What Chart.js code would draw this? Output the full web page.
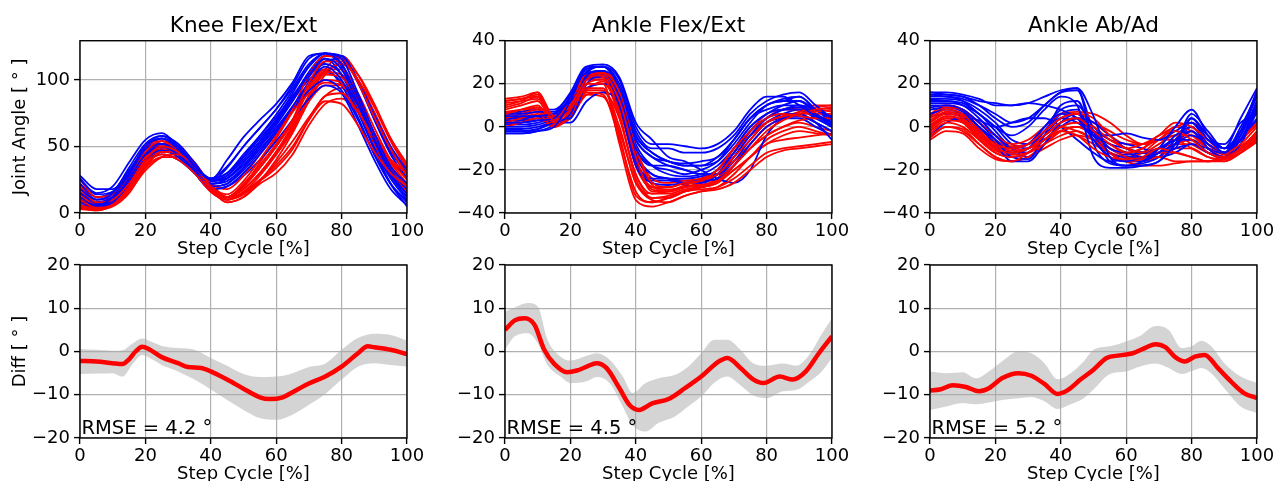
<!DOCTYPE html>
<html>
<head>
<meta charset="utf-8">
<script src="https://cdn.jsdelivr.net/npm/chart.js@4"></script>
<style>
  body { margin: 0; width: 1279px; height: 481px; overflow: hidden; background: #fff; position: relative; }
  canvas { position: absolute; }
</style>
</head>
<body>
<canvas id="kneeTop" width="427" height="261" style="left:0;top:0"></canvas>
<canvas id="ankleTop" width="427" height="261" style="left:425px;top:0"></canvas>
<canvas id="abadTop" width="427" height="261" style="left:850px;top:0"></canvas>
<canvas id="kneeDiff" width="427" height="236" style="left:0;top:250px"></canvas>
<canvas id="ankleDiff" width="427" height="236" style="left:425px;top:250px"></canvas>
<canvas id="abadDiff" width="427" height="236" style="left:850px;top:250px"></canvas>
<script>
// --- data: step cycle samples (every 5 %) ---
const STEP = [0, 5, 10, 15, 20, 25, 30, 35, 40, 45, 50, 55, 60, 65, 70, 75, 80, 85, 90, 95, 100];
const X_TICKS = [0, 20, 40, 60, 80, 100];
const TITLES = ["Knee Flex/Ext", "Ankle Flex/Ext", "Ankle Ab/Ad"];
const RMSE = [4.2, 4.5, 5.2];

// Knee Flex/Ext
const KNEE_RED = [
  [5, 3, 6, 18, 36, 44, 40, 30, 16, 10, 16, 25, 36, 50, 70, 84, 82, 66, 46, 30, 20],
  [10, 4, 6, 16, 32, 42, 44, 35, 20, 10, 15, 24, 34, 48, 70, 88, 90, 76, 56, 40, 30],
  [20, 8, 10, 22, 40, 50, 46, 34, 18, 12, 20, 34, 50, 70, 98, 114, 114, 100, 80, 56, 37],
  [25, 12, 14, 26, 46, 54, 48, 34, 20, 14, 24, 40, 58, 78, 104, 118, 116, 98, 72, 48, 28],
  [6, 3, 5, 15, 34, 46, 46, 36, 20, 12, 20, 34, 50, 68, 92, 104, 102, 84, 60, 38, 22],
  [14, 6, 8, 20, 38, 48, 46, 36, 22, 18, 28, 44, 60, 76, 90, 98, 96, 78, 52, 30, 16],
  [9, 5, 12, 30, 50, 54, 48, 34, 18, 12, 22, 36, 52, 70, 94, 106, 104, 86, 60, 36, 20],
  [12, 5, 8, 18, 34, 42, 42, 34, 18, 8, 12, 22, 30, 44, 66, 82, 86, 76, 58, 40, 32],
  [4, 2, 6, 20, 40, 50, 48, 36, 20, 12, 18, 30, 44, 62, 88, 106, 112, 104, 82, 56, 35],
  [16, 8, 10, 24, 44, 52, 46, 32, 16, 10, 20, 38, 56, 76, 96, 108, 108, 90, 64, 40, 25],
  [8, 4, 8, 22, 42, 50, 46, 34, 18, 10, 16, 28, 44, 64, 86, 100, 98, 80, 56, 34, 22],
  [18, 8, 10, 24, 42, 52, 50, 38, 22, 12, 18, 30, 46, 64, 84, 96, 96, 80, 58, 38, 27],
  [3, 2, 6, 20, 38, 46, 44, 34, 18, 8, 12, 24, 40, 60, 84, 104, 112, 100, 76, 50, 30],
  [22, 10, 12, 26, 44, 52, 48, 36, 20, 12, 18, 30, 46, 66, 88, 108, 118, 104, 80, 54, 33],
  [10, 5, 8, 18, 36, 46, 44, 34, 18, 10, 14, 24, 38, 54, 72, 88, 94, 80, 60, 40, 27]
];
const KNEE_BLUE = [
  [25, 15, 20, 38, 55, 60, 50, 35, 25, 40, 57, 70, 82, 98, 118, 120, 116, 90, 60, 35, 22],
  [18, 10, 15, 34, 52, 58, 50, 36, 26, 35, 50, 64, 78, 96, 116, 120, 112, 86, 56, 32, 18],
  [10, 6, 12, 30, 50, 56, 48, 34, 22, 26, 38, 52, 68, 86, 104, 116, 108, 82, 54, 30, 14],
  [8, 5, 10, 26, 44, 50, 44, 32, 20, 22, 32, 46, 62, 80, 98, 110, 100, 76, 48, 26, 10],
  [15, 8, 12, 28, 46, 52, 46, 34, 22, 24, 34, 48, 62, 78, 92, 100, 92, 70, 44, 22, 8],
  [5, 4, 8, 22, 40, 47, 42, 30, 18, 20, 30, 44, 60, 78, 98, 114, 116, 98, 72, 46, 30],
  [22, 12, 16, 32, 48, 52, 46, 34, 24, 30, 44, 58, 72, 88, 104, 112, 104, 80, 52, 28, 12],
  [12, 7, 10, 24, 40, 44, 40, 30, 18, 20, 28, 40, 54, 70, 86, 96, 90, 66, 40, 18, 6],
  [6, 5, 12, 30, 50, 58, 52, 38, 24, 28, 40, 54, 70, 90, 110, 120, 118, 100, 74, 50, 32],
  [28, 18, 18, 30, 44, 48, 42, 31, 20, 22, 34, 50, 66, 84, 102, 116, 104, 78, 48, 22, 5],
  [20, 10, 14, 30, 48, 56, 50, 36, 24, 34, 50, 64, 78, 94, 112, 120, 110, 84, 56, 32, 17],
  [4, 3, 8, 24, 44, 52, 46, 34, 22, 26, 38, 52, 68, 86, 106, 118, 118, 98, 70, 44, 26],
  [14, 8, 12, 28, 46, 54, 48, 36, 26, 30, 42, 56, 70, 86, 100, 108, 96, 72, 44, 22, 9],
  [9, 6, 10, 24, 42, 48, 44, 34, 24, 26, 36, 50, 64, 80, 96, 106, 98, 76, 50, 28, 15],
  [26, 14, 16, 30, 46, 52, 46, 34, 24, 28, 42, 58, 74, 92, 110, 120, 112, 88, 58, 34, 20]
];

// Ankle Flex/Ext
const ANKLE_RED = [
  [12, 13, 15, 3, 8, 20, 22, 6, -24, -33, -32, -30, -28, -25, -18, -10, -2, 3, 6, 8, 9],
  [10, 12, 16, 5, 10, 22, 24, 12, -14, -30, -30, -27, -25, -22, -14, -6, 2, 5, 6, 7, 8],
  [6, 8, 10, 2, 9, 22, 25, 16, -10, -26, -28, -26, -25, -20, -10, -2, 4, 6, 5, 4, 4],
  [2, 4, 6, 0, 6, 18, 18, -4, -32, -35, -33, -30, -29, -28, -24, -18, -12, -10, -9, -8, -7],
  [8, 10, 12, 2, 10, 20, 20, -8, -34, -37, -35, -32, -30, -29, -26, -20, -14, -11, -10, -9, -8],
  [0, 2, 4, 0, 5, 17, 21, 10, -18, -28, -28, -26, -24, -20, -10, -4, 2, 5, 6, 6, 6],
  [4, 6, 8, 1, 7, 16, 15, -6, -30, -35, -33, -30, -28, -26, -18, -8, 0, 4, 7, 9, 10],
  [11, 12, 13, 4, 12, 24, 25, 18, -10, -24, -26, -25, -24, -22, -16, -10, -4, 0, 3, 4, 4],
  [7, 8, 9, 1, 4, 15, 16, 4, -22, -31, -31, -29, -28, -26, -20, -14, -6, -2, 0, -2, -4],
  [13, 14, 16, 4, 12, 24, 23, 10, -16, -28, -29, -28, -27, -24, -12, -4, 4, 8, 8, 8, 7],
  [9, 11, 14, 3, 10, 22, 22, 4, -22, -33, -33, -30, -28, -24, -16, -8, 0, 4, 7, 8, 9],
  [3, 5, 7, 1, 6, 17, 17, 0, -26, -31, -30, -28, -27, -25, -20, -14, -8, -4, -2, -3, -4],
  [12, 13, 14, 4, 13, 25, 25, 14, -12, -27, -30, -28, -26, -22, -12, -2, 6, 8, 9, 10, 10],
  [5, 7, 9, 1, 5, 15, 14, -2, -26, -34, -35, -32, -30, -28, -22, -14, -8, -6, -5, -4, -3],
  [1, 3, 5, 0, 7, 18, 20, 8, -18, -29, -30, -28, -26, -24, -18, -10, -4, 0, 2, 0, -2]
];
const ANKLE_BLUE = [
  [-3, -3, -2, 0, 12, 27, 28, 22, 0, -8, -8, -9, -10, -8, -2, 8, 14, 14, 10, 5, 2],
  [2, 2, 3, 4, 14, 27, 28, 20, -2, -10, -10, -12, -12, -10, -4, 6, 12, 15, 16, 10, 4],
  [5, 5, 5, 6, 8, 22, 24, 14, -10, -18, -20, -22, -20, -16, -6, 4, 8, 10, 10, 6, 2],
  [-2, -2, -1, 2, 6, 24, 26, 12, -14, -22, -24, -26, -26, -22, -12, -2, 4, 6, 6, 2, -2],
  [0, 0, 1, 3, 4, 20, 24, 10, -18, -26, -27, -26, -25, -24, -18, -8, 0, 4, 5, 2, -2],
  [6, 6, 7, 7, 12, 18, 20, 16, -6, -14, -18, -20, -22, -22, -14, -4, 4, 8, 10, 8, 4],
  [3, 3, 4, 6, 16, 28, 28, 18, -4, -12, -16, -18, -18, -16, -8, 2, 10, 12, 14, 8, 3],
  [-1, -1, 0, 2, 2, 12, 16, 10, -16, -24, -24, -24, -23, -20, -10, 0, 6, 8, 8, 4, 0],
  [4, 4, 5, 6, 14, 28, 29, 23, 2, -6, -14, -16, -20, -24, -26, -20, -4, 4, 6, 2, -6],
  [1, 1, 2, 4, 8, 23, 26, 16, -8, -18, -22, -23, -22, -18, -10, 0, 6, 10, 12, 6, 0],
  [-3, -3, -2, 1, 10, 26, 28, 18, -10, -18, -18, -20, -22, -22, -16, -6, 2, 6, 8, 4, 0],
  [7, 7, 8, 8, 15, 25, 26, 18, -4, -12, -16, -17, -16, -14, -6, 4, 10, 12, 12, 8, 5],
  [2, 2, 3, 5, 9, 25, 28, 16, -12, -22, -24, -25, -24, -20, -12, -2, 4, 8, 9, 5, 1],
  [-2, -2, -1, 2, 4, 20, 24, 12, -16, -25, -25, -27, -28, -24, -14, -4, 2, 4, 4, 0, -4],
  [4, 4, 5, 6, 12, 22, 23, 16, -6, -14, -16, -18, -18, -14, -6, 4, 10, 13, 14, 8, 2]
];

// Ankle Ab/Ad
const ABAD_RED = [
  [-6, -2, -3, -10, -15, -16, -12, -6, -2, -4, -10, -14, -15, -14, -10, -12, -14, -16, -15, -12, -7],
  [0, 5, 3, -4, -10, -12, -10, -4, 2, 4, -2, -8, -12, -10, -4, -2, -6, -12, -14, -10, -4],
  [4, 8, 6, -2, -8, -10, -8, -2, 4, 6, 4, -4, -10, -8, -4, 2, 0, -6, -12, -8, 0],
  [-3, 2, 0, -6, -12, -14, -12, -8, -4, -2, -6, -12, -16, -15, -12, -12, -14, -16, -16, -12, -6],
  [2, 6, 4, -3, -9, -11, -10, -6, 0, 2, 0, -6, -10, -12, -8, -4, -4, -10, -14, -10, -2],
  [-4, 0, -2, -8, -14, -16, -14, -10, -6, -4, -6, -10, -14, -15, -14, -16, -16, -16, -14, -10, -4],
  [5, 9, 8, 2, -4, -8, -6, 0, 6, 7, 6, 2, -4, -8, -6, 0, -2, -8, -13, -6, 2],
  [-2, 3, 2, -5, -11, -13, -12, -8, -2, 0, -4, -10, -12, -10, -6, -6, -10, -14, -16, -12, -5],
  [1, 5, 3, -4, -10, -12, -10, -4, 0, -2, -6, -12, -16, -18, -18, -17, -16, -16, -15, -12, -6],
  [3, 7, 5, -1, -7, -9, -8, -4, 2, 4, 2, -2, -6, -8, -6, -4, -8, -12, -14, -9, -3],
  [0, 4, 2, -6, -12, -14, -12, -6, 0, 2, -2, -8, -12, -14, -12, -8, -6, -10, -14, -10, -4],
  [-5, 0, -1, -8, -14, -16, -14, -8, -2, 0, -4, -12, -16, -16, -14, -10, -10, -14, -15, -12, -6],
  [6, 10, 8, 0, -6, -10, -8, -2, 4, 6, 2, -4, -8, -8, -4, 0, 2, -4, -10, -6, 1],
  [-1, 4, 3, -4, -10, -12, -10, -6, -2, -4, -8, -12, -14, -12, -6, -2, -4, -10, -14, -11, -5],
  [2, 7, 6, -2, -8, -11, -10, -6, -2, 0, -2, -6, -10, -12, -10, -8, -8, -12, -15, -10, -3]
];
const ABAD_BLUE = [
  [16, 16, 15, 13, 10, 10, 11, 14, 17, 18, 5, -14, -18, -18, -16, -8, 4, -6, -10, 4, 18],
  [15, 15, 14, 10, 4, 0, 2, 10, 16, 18, -8, -17, -18, -16, -10, 0, 8, -4, -12, -2, 17],
  [14, 14, 12, 6, 0, -4, 0, 8, 14, 10, -14, -19, -19, -18, -16, -8, 6, -2, -10, -6, 12],
  [12, 12, 10, 4, -4, -10, -8, 0, 6, 4, -6, -14, -16, -14, -12, -4, 0, -10, -14, -8, 10],
  [10, 10, 8, 2, -6, -14, -15, -4, 10, 12, -4, -12, -16, -16, -12, -8, -4, -8, -12, -2, 14],
  [6, 8, 6, 0, -8, -16, -16, -8, 2, 4, -2, -10, -12, -14, -10, -6, -2, -10, -12, -6, 8],
  [16, 15, 14, 12, 11, 10, 11, 10, 8, 4, -2, -4, -3, -5, -6, -2, 2, -6, -8, 2, 6],
  [8, 9, 7, 0, -6, -12, -10, -2, 4, 2, -4, -8, -10, -12, -14, -12, -8, -12, -14, -6, 4],
  [13, 13, 12, 8, 2, -6, -8, 0, 8, 10, 0, -6, -8, -10, -12, -10, 4, -4, -10, -2, 10],
  [-4, 2, 4, -2, -10, -14, -12, -6, 0, 4, 2, -4, -10, -12, -10, -6, -6, -12, -14, -6, 3],
  [5, 6, 5, 3, 0, 2, 4, 4, 0, -6, -12, -16, -15, -14, -12, -10, -8, -10, -12, 0, 15],
  [15, 14, 13, 10, 6, 2, 4, 10, 16, 17, -2, -16, -18, -17, -14, -6, 2, -8, -12, -4, 16],
  [11, 11, 10, 6, 0, -8, -10, -2, 6, 8, -6, -14, -16, -15, -12, -8, -2, -10, -12, -4, 12],
  [9, 10, 8, 2, -4, -10, -12, -4, 4, 6, -4, -12, -14, -14, -12, -8, 0, -8, -12, -6, 9],
  [13, 12, 11, 6, -2, -10, -14, -8, 2, 6, -2, -10, -13, -12, -10, -6, -2, -10, -14, -8, 7]
];

// difference plots: mean line and spread band
const KNEE_MEAN_X = [0, 5, 10, 13, 15, 17, 19, 21, 25, 30, 33, 37, 40, 45, 50, 55, 58, 62, 65, 70, 75, 80, 85, 88, 90, 95, 100];
const KNEE_MEAN = [-2.2, -2.3, -2.7, -2.9, -1.8, 0.0, 1.1, 0.6, -1.3, -2.7, -3.6, -3.8, -4.6, -6.5, -8.6, -10.6, -11.0, -10.6, -9.4, -7.4, -5.8, -3.5, -0.4, 1.2, 1.0, 0.4, -0.6];
const KNEE_BAND_X = [0, 5, 10, 13, 16, 19, 22, 25, 30, 35, 40, 45, 50, 55, 60, 65, 70, 75, 80, 85, 90, 95, 100];
const KNEE_BAND_HI = [0.6, 0.4, 0.2, 0.3, 1.8, 3.0, 2.2, 1.3, 0.8, 0.4, -1.5, -3.3, -5.2, -5.9, -5.8, -5.0, -3.6, -2.8, 0.4, 3.1, 4.1, 3.8, 2.5];
const KNEE_BAND_LO = [-5.2, -5.1, -5.0, -5.8, -3.0, -0.8, -1.8, -3.1, -4.6, -6.5, -8.8, -11.2, -13.5, -15.4, -15.8, -14.6, -12.3, -9.8, -6.5, -3.5, -2.7, -3.1, -3.5];

const ANKLE_MEAN_X = [0, 3, 6, 9, 12, 15, 19, 22, 25, 28, 31, 35, 38, 41, 45, 50, 55, 60, 65, 68, 72, 76, 79, 84, 88, 92, 96, 100];
const ANKLE_MEAN = [5.0, 7.2, 7.7, 6.2, 0.4, -2.8, -4.8, -4.4, -3.5, -2.7, -3.8, -8.5, -12.3, -13.5, -12.0, -11.0, -8.5, -5.8, -2.5, -1.5, -3.8, -6.5, -7.3, -5.8, -6.5, -4.6, -0.4, 3.5];
const ANKLE_BAND_X = [0, 3, 7, 10, 13, 17, 20, 25, 28, 32, 36, 39, 43, 47, 52, 56, 60, 64, 68, 72, 76, 80, 85, 89, 93, 97, 100];
const ANKLE_BAND_HI = [9.2, 10.2, 11.2, 10.4, 2.7, -1.2, -2.1, -1.0, -0.4, -1.9, -5.8, -9.6, -7.3, -6.2, -5.4, -3.5, -0.4, 2.7, 2.7, 0.4, -2.8, -3.3, -2.8, -3.3, -0.8, 4.2, 7.7];
const ANKLE_BAND_LO = [0.4, 3.5, 4.2, 1.9, -3.1, -5.8, -7.3, -6.9, -5.9, -7.3, -12.7, -17.0, -18.5, -16.5, -15.0, -12.7, -10.4, -7.2, -5.8, -7.8, -10.2, -10.8, -9.2, -8.9, -7.0, -4.5, -1.5];

const ABAD_MEAN_X = [0, 3, 7, 11, 15, 18, 22, 27, 31, 35, 39, 42, 46, 50, 54, 58, 62, 66, 69, 72, 75, 78, 81, 84, 88, 92, 96, 100];
const ABAD_MEAN = [-9.0, -8.8, -7.8, -8.2, -9.2, -8.5, -6.2, -5.0, -5.6, -7.5, -9.8, -9.0, -6.5, -4.2, -1.5, -0.9, -0.4, 0.9, 1.7, 1.0, -1.3, -2.3, -1.2, -0.8, -3.8, -6.9, -9.6, -10.8];
const ABAD_BAND_X = [0, 5, 10, 14, 18, 22, 27, 31, 35, 39, 43, 47, 50, 55, 60, 64, 69, 73, 77, 80, 83, 86, 90, 95, 100];
const ABAD_BAND_HI = [-4.6, -5.0, -4.8, -6.2, -4.6, -2.3, 0.0, -0.4, -2.7, -6.4, -5.0, -2.3, 0.4, 1.2, 2.3, 3.5, 5.9, 5.0, 0.8, 1.2, 2.5, 1.2, -2.7, -5.8, -7.3];
const ABAD_BAND_LO = [-13.5, -12.7, -11.9, -12.2, -11.8, -11.2, -10.8, -10.5, -11.5, -13.3, -12.2, -10.8, -8.8, -5.2, -4.6, -3.5, -2.8, -3.8, -5.2, -4.5, -3.8, -5.0, -8.5, -12.7, -14.2];

// ============================
Chart.defaults.font.family = "'DejaVu Sans', sans-serif";
Chart.defaults.color = "#000";
Chart.defaults.animation = false;

const RED = "#ff0000";
const BLUE = "#0000ff";
const GRID = "#b0b0b0";

const minus = v => String(v).replace("-", "\u2212");
const pts = (xs, ys) => xs.map((x, i) => ({ x, y: ys[i] }));

// black box round the plot area, like matplotlib spines
const framePlugin = {
  id: "frame",
  afterDatasetsDraw(chart) {
    const a = chart.chartArea;
    const ctx = chart.ctx;
    ctx.save();
    ctx.strokeStyle = "#000";
    ctx.lineWidth = 1.4;
    ctx.strokeRect(a.left, a.top, a.right - a.left, a.bottom - a.top);
    ctx.restore();
  },
};

function rmsePlugin(value) {
  return {
    id: "rmse",
    afterDatasetsDraw(chart) {
      const a = chart.chartArea;
      const ctx = chart.ctx;
      ctx.save();
      ctx.font = "19.5px 'DejaVu Sans'";
      ctx.fillStyle = "#000";
      ctx.textBaseline = "alphabetic";
      ctx.fillText("RMSE = " + value.toFixed(1) + " \u00b0", a.left + 1.5, a.bottom - 4);
      ctx.restore();
    },
  };
}

function scales(yMin, yMax, yTicks, yTitle) {
  return {
    x: {
      type: "linear", min: 0, max: 100,
      afterBuildTicks: s => { s.ticks = X_TICKS.map(v => ({ value: v })); },
      afterFit: s => { s.height = 48; },
      grid: { color: GRID, lineWidth: 1.2, tickColor: "#000", tickLength: 6, tickWidth: 1.4 },
      border: { display: false },
      ticks: { font: { size: 18 }, padding: 2, maxRotation: 0, autoSkip: false },
      title: { display: true, text: "Step Cycle [%]", font: { size: 18 }, padding: { top: 0, bottom: 1 } },
    },
    y: {
      type: "linear", min: yMin, max: yMax,
      afterBuildTicks: s => { s.ticks = yTicks.map(v => ({ value: v })); },
      afterFit: s => { s.width = 80; },
      grid: { color: GRID, lineWidth: 1.2, tickColor: "#000", tickLength: 6, tickWidth: 1.4 },
      border: { display: false },
      ticks: { font: { size: 18 }, padding: 4, callback: minus },
      title: { display: !!yTitle, text: yTitle || "", font: { size: 18 }, padding: { top: 10, bottom: 0 } },
    },
  };
}

function curve(vals, color) {
  return {
    data: pts(STEP, vals),
    borderColor: color,
    borderWidth: 1.8,
    pointRadius: 0,
    fill: false,
    cubicInterpolationMode: "monotone",
  };
}

function renderCurves(id, title, reds, blues, yMin, yMax, yTicks, yTitle) {
  const datasets = [];
  const n = Math.max(reds.length, blues.length);
  for (let i = 0; i < n; i++) {
    if (blues[i]) datasets.push(curve(blues[i], BLUE));
    if (reds[i]) datasets.push(curve(reds[i], RED));
  }
  new Chart(document.getElementById(id), {
    type: "line",
    data: { datasets },
    options: {
      responsive: false,
      devicePixelRatio: 1,
      layout: { padding: { left: 0, right: 20, top: 0, bottom: 0 } },
      plugins: {
        legend: { display: false },
        tooltip: { enabled: false },
        title: {
          display: true, text: title, color: "#000", fullSize: false,
          font: { size: 21.6, weight: "normal" }, padding: { top: 13.5, bottom: 1.3 },
        },
      },
      scales: scales(yMin, yMax, yTicks, yTitle),
    },
    plugins: [framePlugin],
  });
}

function renderDiff(id, meanX, mean, bandX, hi, lo, rmse, yTitle) {
  new Chart(document.getElementById(id), {
    type: "line",
    data: {
      datasets: [
        { data: pts(meanX, mean), borderColor: RED, borderWidth: 4.5, pointRadius: 0, fill: false, cubicInterpolationMode: "monotone" },
        { data: pts(bandX, hi), borderWidth: 0, borderColor: "rgba(0,0,0,0)", pointRadius: 0, fill: "+1", backgroundColor: "rgba(170,170,170,0.5)", cubicInterpolationMode: "monotone" },
        { data: pts(bandX, lo), borderWidth: 0, borderColor: "rgba(0,0,0,0)", pointRadius: 0, fill: false, cubicInterpolationMode: "monotone" },
      ],
    },
    options: {
      responsive: false,
      devicePixelRatio: 1,
      layout: { padding: { left: 0, right: 20, top: 15, bottom: 0 } },
      plugins: { legend: { display: false }, tooltip: { enabled: false } },
      scales: scales(-20, 20, [-20, -10, 0, 10, 20], yTitle),
    },
    plugins: [framePlugin, rmsePlugin(rmse)],
  });
}

renderCurves("kneeTop", TITLES[0], KNEE_RED, KNEE_BLUE, 0, 129.5, [0, 50, 100], "Joint Angle [ \u00b0 ]");
renderCurves("ankleTop", TITLES[1], ANKLE_RED, ANKLE_BLUE, -40, 40, [-40, -20, 0, 20, 40]);
renderCurves("abadTop", TITLES[2], ABAD_RED, ABAD_BLUE, -40, 40, [-40, -20, 0, 20, 40]);

renderDiff("kneeDiff", KNEE_MEAN_X, KNEE_MEAN, KNEE_BAND_X, KNEE_BAND_HI, KNEE_BAND_LO, RMSE[0], "Diff [ \u00b0 ]");
renderDiff("ankleDiff", ANKLE_MEAN_X, ANKLE_MEAN, ANKLE_BAND_X, ANKLE_BAND_HI, ANKLE_BAND_LO, RMSE[1]);
renderDiff("abadDiff", ABAD_MEAN_X, ABAD_MEAN, ABAD_BAND_X, ABAD_BAND_HI, ABAD_BAND_LO, RMSE[2]);
</script>
</body>
</html>
